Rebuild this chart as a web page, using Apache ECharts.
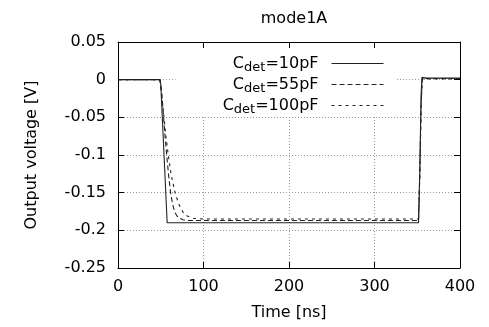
<!DOCTYPE html>
<html>
<head>
<meta charset="utf-8">
<script src="https://cdn.jsdelivr.net/npm/echarts@6/dist/echarts.min.js"></script>
<style>html,body{margin:0;padding:0;background:#fff}#c{width:489px;height:327px}</style>
</head>
<body>
<div id="c"></div>
<script>
const chartTitle = 'mode1A';
const xTickLabels = ['0', '100', '200', '300', '400'];
const yTickLabels = ['-0.25', '-0.2', '-0.15', '-0.1', '-0.05', '0', '0.05'];
const seriesNames = ['10pF', '55pF', '100pF'];

const t10 = [0, 49, 50, 57.5, 351.5, 353, 354.5, 355.5, 357, 360, 400];
const v10 = [0, 0, -0.006, -0.190, -0.190, -0.120, -0.020, 0.003, 0.0025, 0.002, 0.002];

const t55 = [0, 49, 51, 53, 55, 57, 59, 61.5, 64, 66.5, 69, 72, 76, 82, 120, 351.5, 353, 354.5, 356, 358, 362, 400];
const v55 = [0, 0, -0.015, -0.045, -0.075, -0.100, -0.125, -0.150, -0.166, -0.176, -0.181, -0.184, -0.186, -0.187, -0.187, -0.187, -0.125, -0.030, 0.002, 0.002, 0.0015, 0.0015];

const t100 = [0, 49, 51, 53.8, 56, 58.8, 62, 66.7, 71, 76, 81, 88, 100, 351.5, 353, 354.5, 356, 358, 362, 400];
const v100 = [0, 0, -0.020, -0.050, -0.075, -0.100, -0.125, -0.150, -0.165, -0.176, -0.181, -0.184, -0.185, -0.185, -0.125, -0.035, 0.001, 0.0015, 0.001, 0.001];

const FONT = 'DejaVu Sans';
const pairs = (t, v) => t.map((x, i) => [x, v[i]]);

const chart = echarts.init(document.getElementById('c'), null, {renderer: 'canvas'});
const lineCol = '#222';
const gridLine = {show: true, lineStyle: {color: '#9a9a9a', type: [1, 2], width: 1}};
const axisCommon = {
  min: 0, max: 400, interval: 100,
};
chart.setOption({
  animation: false,
  title: {
    text: chartTitle, left: 289, top: 6, textAlign: 'center',
    textStyle: {fontFamily: FONT, fontSize: 16, fontWeight: 'normal', color: '#000'}
  },
  grid: {left: 118, right: 29, top: 42, bottom: 59, containLabel: false},
  legend: {
    orient: 'vertical', align: 'right', right: 94, top: 43,
    padding: [10, 11, 1, 47],
    backgroundColor: '#fff',
    itemWidth: 52, itemHeight: 12, itemGap: 0,
    itemStyle: {opacity: 0},
    lineStyle: {width: 1},
    data: seriesNames,
    formatter: name => '{m|C}{s|det}{m|=' + name + '}',
    textStyle: {
      padding: [0, 8, 0, 0],
      rich: {
        m: {fontFamily: FONT, fontSize: 16, color: '#000', lineHeight: 19.5},
        s: {fontFamily: FONT, fontSize: 13, color: '#000', lineHeight: 19.5, padding: [8, 0, 0, 0]}
      }
    }
  },
  xAxis: [{
    type: 'value', position: 'bottom', ...axisCommon,
    name: 'Time [ns]', nameLocation: 'middle', nameGap: 37,
    nameTextStyle: {fontFamily: FONT, fontSize: 16, color: '#000'},
    axisLine: {show: true, onZero: false, lineStyle: {color: '#000', width: 1}},
    axisTick: {show: true, inside: true, length: 6, lineStyle: {color: '#000'}},
    axisLabel: {margin: 11, fontFamily: FONT, fontSize: 16, color: '#000', formatter: (v, i) => xTickLabels[i]},
    splitLine: gridLine
  }, {
    type: 'value', position: 'top', ...axisCommon, z: 10,
    axisLine: {show: true, onZero: false, lineStyle: {color: '#000', width: 1}},
    axisTick: {show: true, inside: true, length: 6, lineStyle: {color: '#000'}},
    axisLabel: {show: false}, splitLine: {show: false}
  }],
  yAxis: [{
    type: 'value', position: 'left', min: -0.25, max: 0.05, interval: 0.05,
    name: 'Output voltage [V]', nameLocation: 'middle', nameGap: 78,
    nameTextStyle: {fontFamily: FONT, fontSize: 16, color: '#000'},
    axisLine: {show: true, onZero: false, lineStyle: {color: '#000', width: 1}},
    axisTick: {show: true, inside: true, length: 6, lineStyle: {color: '#000'}},
    axisLabel: {margin: 12, fontFamily: FONT, fontSize: 16, color: '#000', formatter: (v, i) => yTickLabels[i]},
    splitLine: gridLine
  }, {
    type: 'value', position: 'right', min: -0.25, max: 0.05, interval: 0.05, z: 10,
    axisLine: {show: true, onZero: false, lineStyle: {color: '#000', width: 1}},
    axisTick: {show: true, inside: true, length: 6, lineStyle: {color: '#000'}},
    axisLabel: {show: false}, splitLine: {show: false}
  }],
  series: [
    {name: seriesNames[0], type: 'line', symbol: 'none', data: pairs(t10, v10),
     lineStyle: {color: lineCol, width: 1.1, type: 'solid'}, itemStyle: {color: lineCol}},
    {name: seriesNames[1], type: 'line', symbol: 'none', data: pairs(t55, v55),
     lineStyle: {color: lineCol, width: 1.1, type: [5, 3]}, itemStyle: {color: lineCol}},
    {name: seriesNames[2], type: 'line', symbol: 'none', data: pairs(t100, v100),
     lineStyle: {color: lineCol, width: 1.1, type: [3, 4]}, itemStyle: {color: lineCol}}
  ]
});
</script>
</body>
</html>
